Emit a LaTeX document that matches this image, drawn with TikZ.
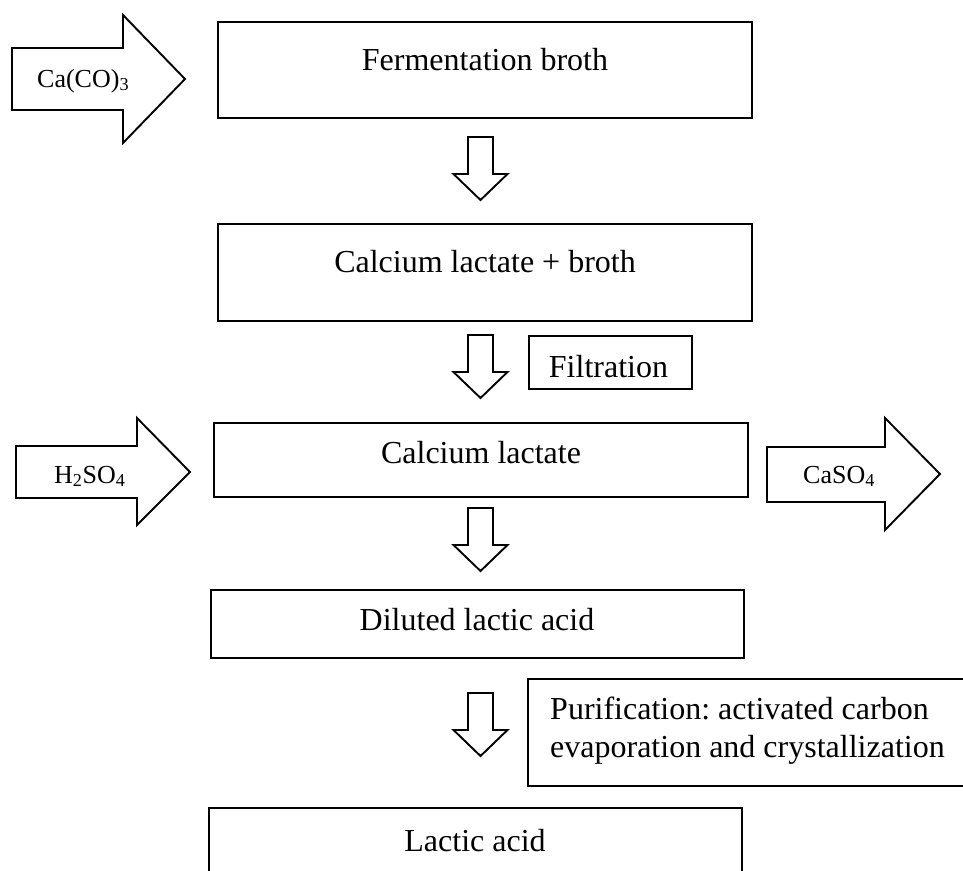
\documentclass[tikz,border=0pt]{standalone}
\usepackage{fontspec}
\setmainfont{Liberation Serif}
\frenchspacing
\begin{document}
\begin{tikzpicture}[x=1pt,y=-1pt,
  box/.style={draw, line width=2.4pt, inner sep=0pt, fill=white},
  txt/.style={inner sep=0pt, anchor=base, font=\fontsize{32}{38}\selectfont},
  smalltxt/.style={inner sep=0pt, anchor=base west, font=\fontsize{26}{30}\selectfont},
  blockarr/.style={draw, line width=1.9pt, line join=miter, fill=white},
  downarr/.pic={\draw[blockarr] (-12.5,0) -- (-12.5,37) -- (-27,37) -- (0,63) -- (27,37) -- (12.5,37) -- (12.5,0) -- cycle;}]
\useasboundingbox (0,0) rectangle (963,870);
\clip (0,0) rectangle (963,870);
\fill[white] (0,0) rectangle (963,870);

% main boxes
\node[box, minimum width=534pt, minimum height=96pt] (b1) at (485,70) {};
\node[box, minimum width=534pt, minimum height=97pt] (b2) at (485,272.5) {};
\node[box, minimum width=534pt, minimum height=74pt] (b3) at (481,460) {};
\node[box, minimum width=533pt, minimum height=68pt] (b4) at (477.5,624) {};
\node[box, minimum width=533pt, minimum height=92pt] (b5) at (475.5,854) {};
\node[box, minimum width=163pt, minimum height=53pt] (filt) at (610.5,362.5) {};
\node[box, minimum width=447pt, minimum height=107pt] (pur) at (751.5,732.5) {};

% texts
\node[txt] (t1) at (485,70) {Fermentation broth};
\node[txt] (t2) at (485,272) {Calcium lactate + broth};
\node[txt] (t3) at (481,463) {Calcium lactate};
\node[txt] (t4) at (477,630) {Diluted lactic acid};
\node[txt] (t5) at (475,851) {Lactic acid};
\node[txt] (tf) at (608.5,377) {Filtration};
\node[txt, anchor=base west] (p1) at (550,719) {Purification: activated carbon};
\node[txt, anchor=base west] (p2) at (550,757) {evaporation and crystallization};

% side block arrows
\draw[blockarr] (12,48) -- (123,48) -- (123,15) -- (185,79) -- (123,143) -- (123,110) -- (12,110) -- cycle;
\node[smalltxt] (ca) at (37,87) {Ca(CO)\textsubscript{3}};
\draw[blockarr] (16,446) -- (137,446) -- (137,418) -- (190,472) -- (137,525) -- (137,498) -- (16,498) -- cycle;
\node[smalltxt] (h2) at (54,483) {H\textsubscript{2}SO\textsubscript{4}};
\draw[blockarr] (767,447) -- (885,447) -- (885,418) -- (940,474) -- (885,530) -- (885,502) -- (767,502) -- cycle;
\node[smalltxt] (caso) at (803,483) {CaSO\textsubscript{4}};

% down block arrows
\pic at (480.5,137) {downarr};
\pic at (480.5,335) {downarr};
\pic at (480.5,508) {downarr};
\pic at (480.5,693) {downarr};
\end{tikzpicture}
\end{document}
